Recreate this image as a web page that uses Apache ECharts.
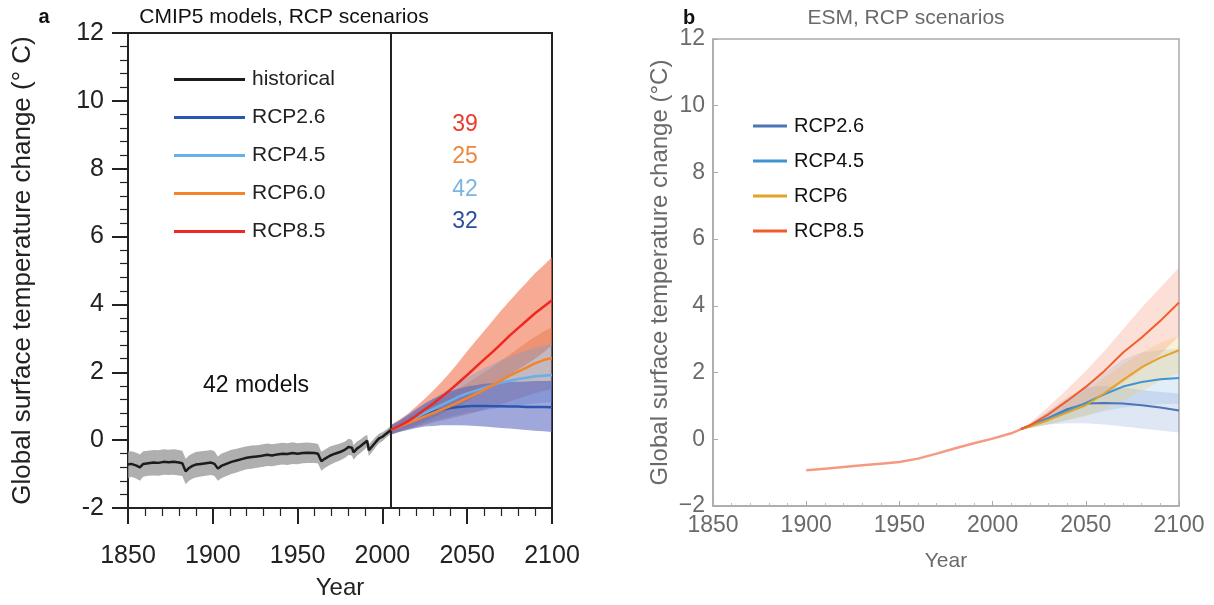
<!DOCTYPE html>
<html>
<head>
<meta charset="utf-8">
<script src="https://cdn.jsdelivr.net/npm/echarts@6/dist/echarts.min.js"></script>
<style>
html,body{margin:0;padding:0;background:#fff;}
#c{width:1214px;height:605px;}
</style>
</head>
<body>
<div id="c"></div>
<script>
// ---------- Panel a: CMIP5 ----------
var histYears = [1850,1852,1855,1857,1859,1862,1865,1868,1871,1874,1877,1880,1882,1884,1886,1888,1890,1893,1896,1899,1901,1903,1905,1908,1911,1914,1917,1920,1923,1926,1929,1932,1935,1938,1941,1944,1947,1950,1953,1956,1960,1962,1964,1966,1969,1972,1975,1978,1980,1982,1983,1985,1987,1989,1991,1992,1994,1996,1998,2000,2002,2005];
var histMean = [-0.72,-0.70,-0.75,-0.80,-0.70,-0.68,-0.66,-0.67,-0.64,-0.65,-0.64,-0.66,-0.68,-0.92,-0.82,-0.76,-0.72,-0.70,-0.68,-0.66,-0.70,-0.84,-0.76,-0.70,-0.64,-0.60,-0.56,-0.52,-0.50,-0.48,-0.46,-0.43,-0.45,-0.42,-0.40,-0.41,-0.38,-0.40,-0.38,-0.37,-0.38,-0.40,-0.62,-0.55,-0.46,-0.40,-0.35,-0.28,-0.20,-0.22,-0.36,-0.25,-0.18,-0.10,-0.02,-0.30,-0.18,-0.06,0.05,0.10,0.18,0.30];
var histLow = [-1.12,-1.08,-1.14,-1.20,-1.08,-1.05,-1.04,-1.05,-1.02,-1.03,-1.02,-1.04,-1.06,-1.30,-1.20,-1.14,-1.10,-1.07,-1.05,-1.03,-1.06,-1.20,-1.12,-1.06,-1.00,-0.95,-0.90,-0.86,-0.84,-0.81,-0.79,-0.76,-0.77,-0.74,-0.72,-0.73,-0.70,-0.71,-0.68,-0.67,-0.67,-0.69,-0.90,-0.82,-0.73,-0.66,-0.60,-0.52,-0.44,-0.45,-0.58,-0.46,-0.38,-0.30,-0.20,-0.47,-0.34,-0.21,-0.09,-0.03,0.06,0.18];
var histHigh = [-0.34,-0.33,-0.37,-0.42,-0.33,-0.31,-0.29,-0.30,-0.27,-0.28,-0.27,-0.29,-0.31,-0.55,-0.45,-0.39,-0.35,-0.33,-0.31,-0.29,-0.33,-0.48,-0.40,-0.34,-0.28,-0.25,-0.22,-0.18,-0.16,-0.15,-0.13,-0.10,-0.12,-0.10,-0.08,-0.09,-0.06,-0.09,-0.08,-0.07,-0.09,-0.11,-0.34,-0.28,-0.19,-0.14,-0.10,-0.04,0.04,0.01,-0.14,-0.04,0.02,0.10,0.16,-0.13,-0.02,0.09,0.19,0.23,0.30,0.42];

var projYears = [2005,2010,2015,2020,2025,2030,2035,2040,2045,2050,2055,2060,2065,2070,2075,2080,2085,2090,2095,2100];
var rcp85Mean = [0.30,0.42,0.55,0.72,0.90,1.08,1.28,1.48,1.70,1.92,2.15,2.38,2.60,2.84,3.08,3.30,3.52,3.74,3.93,4.12];
var rcp85Low  = [0.18,0.26,0.34,0.44,0.55,0.66,0.78,0.90,1.02,1.15,1.30,1.45,1.60,1.76,1.92,2.08,2.24,2.40,2.58,2.80];
var rcp85High = [0.45,0.60,0.78,1.00,1.22,1.46,1.72,2.00,2.30,2.62,2.92,3.22,3.52,3.82,4.10,4.38,4.65,4.92,5.15,5.40];
var rcp60Mean = [0.30,0.40,0.50,0.60,0.70,0.80,0.90,1.00,1.12,1.24,1.36,1.48,1.62,1.76,1.90,2.02,2.14,2.26,2.36,2.42];
var rcp60Low  = [0.18,0.25,0.32,0.38,0.45,0.52,0.58,0.64,0.70,0.76,0.82,0.90,0.98,1.06,1.14,1.22,1.30,1.38,1.45,1.50];
var rcp60High = [0.42,0.55,0.68,0.82,0.96,1.10,1.24,1.38,1.52,1.68,1.84,2.00,2.16,2.34,2.52,2.70,2.88,3.05,3.20,3.32];
var rcp45Mean = [0.30,0.42,0.54,0.66,0.80,0.92,1.04,1.16,1.28,1.38,1.46,1.54,1.62,1.70,1.75,1.80,1.84,1.88,1.90,1.92];
var rcp45Low  = [0.16,0.25,0.32,0.40,0.48,0.56,0.62,0.68,0.74,0.80,0.84,0.88,0.92,0.96,0.99,1.02,1.05,1.08,1.10,1.12];
var rcp45High = [0.44,0.58,0.74,0.90,1.06,1.22,1.38,1.54,1.70,1.84,1.98,2.12,2.24,2.36,2.46,2.56,2.64,2.72,2.78,2.84];
var rcp26Mean = [0.30,0.42,0.54,0.66,0.76,0.84,0.90,0.95,0.98,1.00,1.01,1.01,1.00,1.00,0.99,0.99,0.98,0.98,0.98,0.97];
var rcp26Low  = [0.16,0.24,0.30,0.36,0.40,0.42,0.44,0.44,0.44,0.43,0.42,0.40,0.38,0.36,0.34,0.32,0.30,0.28,0.26,0.24];
var rcp26High = [0.44,0.58,0.74,0.92,1.08,1.22,1.34,1.44,1.52,1.58,1.62,1.66,1.68,1.70,1.72,1.72,1.73,1.74,1.74,1.75];

var modelCounts = ['39','25','42','32'];

// ---------- Panel b: ESM ----------
var esmHistYears = [1900,1910,1920,1930,1940,1950,1960,1970,1980,1990,2000,2010,2015];
var esmHist = [-0.93,-0.88,-0.83,-0.78,-0.73,-0.68,-0.58,-0.43,-0.27,-0.12,0.02,0.18,0.30];
var esmYears = [2015,2020,2030,2040,2050,2060,2070,2080,2090,2100];
var esm85 = [0.30,0.42,0.75,1.15,1.57,2.05,2.60,3.05,3.55,4.10];
var esm85Low = [0.30,0.36,0.55,0.80,1.05,1.35,1.70,2.10,2.55,3.10];
var esm85High = [0.30,0.48,0.98,1.50,2.05,2.65,3.30,3.95,4.55,5.15];
var esm60 = [0.30,0.38,0.58,0.80,1.02,1.38,1.78,2.16,2.45,2.67];
var esm60Low = [0.30,0.34,0.45,0.56,0.68,0.90,1.15,1.45,1.75,2.00];
var esm60High = [0.30,0.44,0.75,1.10,1.45,1.85,2.25,2.60,2.90,3.10];
var esm45 = [0.30,0.40,0.62,0.86,1.09,1.35,1.58,1.72,1.80,1.84];
var esm45Low = [0.30,0.34,0.45,0.58,0.72,0.85,0.95,1.02,1.05,1.07];
var esm45High = [0.30,0.46,0.82,1.20,1.55,2.00,2.40,2.60,2.68,2.72];
var esm26 = [0.30,0.40,0.64,0.90,1.07,1.09,1.07,1.02,0.95,0.86];
var esm26Low = [0.30,0.34,0.44,0.48,0.48,0.44,0.38,0.32,0.26,0.20];
var esm26High = [0.30,0.46,0.85,1.25,1.55,1.60,1.55,1.48,1.42,1.37];

var FONT = "'Liberation Sans', Arial, Helvetica, sans-serif";

function zip(xs, ys){ return xs.map(function(x,i){ return [x, ys[i]]; }); }

function band(name, xi, years, lo, hi, color){
  var data = years.map(function(y,i){ return [y, lo[i], hi[i]]; });
  return {
    name: name, type: 'custom', xAxisIndex: xi, yAxisIndex: xi, silent: true, z: 1,
    data: data, encode: {x: 0, y: [1, 2]},
    renderItem: function(params, api){
      if (params.dataIndex !== 0) return null;
      var top = data.map(function(d){ return api.coord([d[0], d[2]]); });
      var bot = data.map(function(d){ return api.coord([d[0], d[1]]); }).reverse();
      return {type: 'polygon', shape: {points: top.concat(bot)}, style: {fill: color}};
    }
  };
}
function line(name, xi, xs, ys, color, w, z){
  return {name: name, type: 'line', xAxisIndex: xi, yAxisIndex: xi, data: zip(xs, ys),
    showSymbol: false, symbol: 'none', z: z || 3, silent: true,
    lineStyle: {color: color, width: w}, itemStyle: {color: color}};
}

var C = {hist:'#1c1c1c', r26:'#2a56b0', r45:'#68b0e8', r60:'#f4832c', r85:'#ee2822'};
var E = {r26:'#4c74b8', r45:'#3f95d2', r60:'#e3a325', r85:'#f25c2a', hist:'#f49a82'};

var chart = echarts.init(document.getElementById('c'), null, {renderer: 'canvas'});

var series = [
  band('histBand', 0, histYears, histLow, histHigh, 'rgba(155,155,155,0.8)'),
  band('b85', 0, projYears, rcp85Low, rcp85High, 'rgba(242,118,82,0.62)'),
  band('b60', 0, projYears, rcp60Low, rcp60High, 'rgba(226,112,60,0.40)'),
  band('b45', 0, projYears, rcp45Low, rcp45High, 'rgba(110,160,220,0.35)'),
  band('b26', 0, projYears, rcp26Low, rcp26High, 'rgba(80,95,190,0.55)'),
  Object.assign(line('historical', 0, histYears, histMean, C.hist, 2.5, 4), {
    markLine: {symbol: 'none', silent: true, label: {show: false},
      lineStyle: {color: '#222', width: 2, type: 'solid'}, data: [{xAxis: 2005}]}
  }),
  line('RCP2.6', 0, projYears, rcp26Mean, C.r26, 2.5, 4),
  line('RCP4.5', 0, projYears, rcp45Mean, C.r45, 2.5, 4),
  line('RCP6.0', 0, projYears, rcp60Mean, C.r60, 2.5, 4),
  line('RCP8.5', 0, projYears, rcp85Mean, C.r85, 2.5, 5),

  band('e26b', 1, esmYears, esm26Low, esm26High, 'rgba(110,140,205,0.22)'),
  band('e45b', 1, esmYears, esm45Low, esm45High, 'rgba(120,175,225,0.22)'),
  band('e60b', 1, esmYears, esm60Low, esm60High, 'rgba(240,200,90,0.25)'),
  band('e85b', 1, esmYears, esm85Low, esm85High, 'rgba(245,130,100,0.25)'),
  line('ESM RCP2.6', 1, esmYears, esm26, E.r26, 2, 4),
  line('ESM RCP4.5', 1, esmYears, esm45, E.r45, 2, 4),
  line('ESM RCP6', 1, esmYears, esm60, E.r60, 2, 4),
  line('ESM RCP8.5', 1, esmYears, esm85, E.r85, 2, 5),
  line('ESM hist', 1, esmHistYears, esmHist, E.hist, 2.5, 5)
];

function plain(v){ return String(v); }

var option = {
  animation: false,
  backgroundColor: '#fff',
  textStyle: {fontFamily: FONT},
  grid: [
    {left: 128, right: 662, top: 33, bottom: 95, show: true, borderColor: '#222', borderWidth: 2, backgroundColor: 'transparent'},
    {left: 713, right: 35, top: 39, bottom: 99, show: true, borderColor: '#aaa', borderWidth: 1.5, backgroundColor: 'transparent'}
  ],
  xAxis: [
    {type: 'value', gridIndex: 0, min: 1850, max: 2100, interval: 50,
      name: 'Year', nameLocation: 'middle', nameGap: 68,
      nameTextStyle: {fontSize: 24, color: '#222', fontFamily: FONT},
      axisLine: {show: true, onZero: false, lineStyle: {color: '#222', width: 2}},
      axisTick: {show: true, inside: false, length: 16, lineStyle: {color: '#222', width: 2}},
      minorTick: {show: true, splitNumber: 5, length: 8, lineStyle: {color: '#222', width: 1.2}},
      axisLabel: {fontSize: 25, color: '#222', margin: 36, fontFamily: FONT, formatter: plain},
      splitLine: {show: false}},
    {type: 'value', gridIndex: 1, min: 1850, max: 2100, interval: 50,
      name: 'Year', nameLocation: 'middle', nameGap: 45,
      nameTextStyle: {fontSize: 21, color: '#6a6a6a', fontFamily: FONT},
      axisLine: {show: true, onZero: false, lineStyle: {color: '#aaa', width: 1.5}},
      axisTick: {show: true, inside: true, length: 5, lineStyle: {color: '#aaa'}},
      minorTick: {show: true, splitNumber: 5, length: 3, lineStyle: {color: '#bbb'}},
      axisLabel: {fontSize: 23, color: '#6a6a6a', margin: 8, fontFamily: FONT, formatter: plain},
      splitLine: {show: false}}
  ],
  yAxis: [
    {type: 'value', gridIndex: 0, min: -2, max: 12, interval: 2,
      name: 'Global surface temperature change (° C)', nameLocation: 'middle', nameGap: 92, nameRotate: 90,
      nameTextStyle: {fontSize: 26, color: '#222', fontFamily: FONT},
      axisLine: {show: true, onZero: false, lineStyle: {color: '#222', width: 2}},
      axisTick: {show: true, inside: false, length: 16, lineStyle: {color: '#222', width: 2}},
      minorTick: {show: true, splitNumber: 5, length: 8, lineStyle: {color: '#222', width: 1.2}},
      axisLabel: {fontSize: 25, color: '#222', margin: 24, fontFamily: FONT},
      splitLine: {show: false}},
    {type: 'value', gridIndex: 1, min: -2, max: 12, interval: 2,
      name: 'Global surface temperature change (°C)', nameLocation: 'middle', nameGap: 41, nameRotate: 90,
      nameTextStyle: {fontSize: 24, color: '#6a6a6a', fontFamily: FONT},
      axisLine: {show: true, onZero: false, lineStyle: {color: '#aaa', width: 1.5}},
      axisTick: {show: true, inside: true, length: 5, lineStyle: {color: '#aaa'}},
      minorTick: {show: false},
      axisLabel: {fontSize: 23, color: '#6a6a6a', margin: 8, fontFamily: FONT,
        formatter: function(v){ return v < 0 ? '\u2212' + (-v) : String(v); }},
      splitLine: {show: false}}
  ],
  legend: [
    {orient: 'vertical', left: 169, top: 64, itemWidth: 71, itemHeight: 3, itemGap: 17, icon: 'rect',
      selectedMode: false,
      textStyle: {fontSize: 21, color: '#222', fontFamily: FONT, padding: [0, 0, 0, 2]},
      data: ['historical', 'RCP2.6', 'RCP4.5', 'RCP6.0', 'RCP8.5']},
    {orient: 'vertical', left: 748, top: 111, itemWidth: 34, itemHeight: 3, itemGap: 15, icon: 'rect',
      selectedMode: false,
      formatter: function(n){ return n.replace('ESM ', ''); },
      textStyle: {fontSize: 20, color: '#111', fontFamily: FONT, padding: [0, 0, 0, 2]},
      data: ['ESM RCP2.6', 'ESM RCP4.5', 'ESM RCP6', 'ESM RCP8.5']}
  ],
  graphic: [
    {type: 'text', x: 44, y: 17, style: {text: 'a', font: 'bold 20px ' + FONT, fill: '#111', align: 'center', verticalAlign: 'middle'}},
    {type: 'text', x: 284, y: 17, style: {text: 'CMIP5 models, RCP scenarios', font: '21px ' + FONT, fill: '#111', align: 'center', verticalAlign: 'middle'}},
    {type: 'text', x: 689, y: 18, style: {text: 'b', font: 'bold 20px ' + FONT, fill: '#111', align: 'center', verticalAlign: 'middle'}},
    {type: 'text', x: 906, y: 18, style: {text: 'ESM, RCP scenarios', font: '21px ' + FONT, fill: '#6a6a6a', align: 'center', verticalAlign: 'middle'}},
    {type: 'text', x: 256, y: 386, style: {text: '42 models', font: '23px ' + FONT, fill: '#111', align: 'center', verticalAlign: 'middle'}},
    {type: 'text', x: 465, y: 125, style: {text: modelCounts[0], font: '23px ' + FONT, fill: '#ea3b2e', align: 'center', verticalAlign: 'middle'}},
    {type: 'text', x: 465, y: 157, style: {text: modelCounts[1], font: '23px ' + FONT, fill: '#f0873a', align: 'center', verticalAlign: 'middle'}},
    {type: 'text', x: 465, y: 190, style: {text: modelCounts[2], font: '23px ' + FONT, fill: '#7ab5e4', align: 'center', verticalAlign: 'middle'}},
    {type: 'text', x: 465, y: 222, style: {text: modelCounts[3], font: '23px ' + FONT, fill: '#2b4f9e', align: 'center', verticalAlign: 'middle'}}
  ],
  series: series
};
chart.setOption(option);
</script>
</body>
</html>
